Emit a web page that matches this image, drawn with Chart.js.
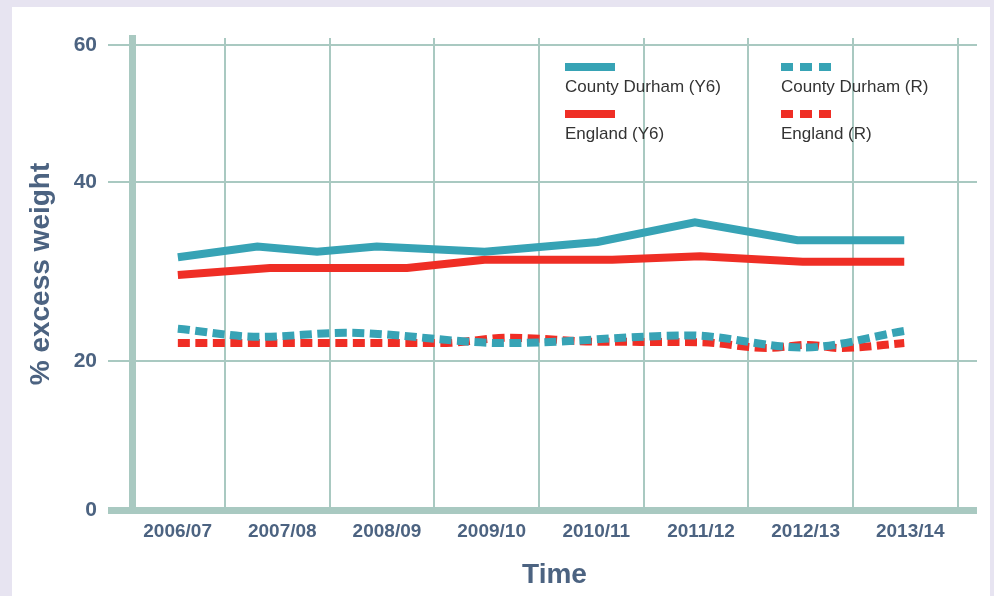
<!DOCTYPE html>
<html>
<head>
<meta charset="utf-8">
<script src="https://cdn.jsdelivr.net/npm/chart.js"></script>
<style>
  html, body { margin: 0; padding: 0; background: #e7e4f1; }
  body { width: 994px; height: 596px; position: relative; overflow: hidden; font-family: "Liberation Sans", Arial, sans-serif; }
  #card { position: absolute; left: 12px; top: 7px; width: 978px; height: 600px; background: #fff; }
  #c { position: absolute; left: 0; top: 0; }
  #legend { position: absolute; left: 565px; top: 62.5px; display: grid; grid-template-columns: 216px 216px; row-gap: 13.5px; }
  .item .sample { width: 50px; height: 8px; margin-bottom: 6px; }
  .item .text { font-size: 17px; line-height: 20px; color: #333; white-space: nowrap; }
</style>
</head>
<body>
<div id="card"></div>
<canvas id="c" width="994" height="596"></canvas>
<div id="legend"></div>
<script>
// categories and tick labels
const years = ['2006/07', '2007/08', '2008/09', '2009/10', '2010/11', '2011/12', '2012/13', '2013/14']
const yTicks = [0, 20, 40, 60]

// series, x in category units (0 = left edge of 2006/07, 8 = right edge of 2013/14)
const durhamY6X = [0.55, 1.31, 1.88, 2.45, 3.48, 4.56, 5.49, 6.47, 7.49]
const durhamY6 = [31.6, 32.8, 32.2, 32.8, 32.2, 33.3, 35.5, 33.5, 33.5]
const englandY6X = [0.55, 1.43, 2.74, 3.48, 4.7, 5.54, 6.52, 7.49]
const englandY6 = [29.6, 30.4, 30.4, 31.3, 31.3, 31.7, 31.1, 31.1]
const durhamRX = [0.55, 1.33, 2.15, 3.68, 5.44, 6.52, 7.49]
const durhamR = [23.6, 22.7, 23.15, 22.0, 22.85, 21.5, 23.35]
const englandRX = [0.55, 3.06, 3.72, 4.58, 5.54, 6.18, 6.57, 6.88, 7.49]
const englandR = [22.0, 22.0, 22.6, 22.15, 22.1, 21.45, 21.8, 21.45, 22.0]

const TEAL = '#37a3b5'
const RED = '#ef2e25'
const GRID = '#a9c9c1'
const SLATE = '#4c6381'

// the original y axis is not evenly spaced: value -> fraction of axis height
const Y_STOPS = [[0, 0], [20, 0.3157], [40, 0.6949], [60, 0.9852], [61, 1]]

function toFraction(v) {
  for (let i = 1; i < Y_STOPS.length; i++) {
    const [v0, f0] = Y_STOPS[i - 1]
    const [v1, f1] = Y_STOPS[i]
    if (v <= v1 || i === Y_STOPS.length - 1) return f0 + (v - v0) / (v1 - v0) * (f1 - f0)
  }
}

function fromFraction(f) {
  for (let i = 1; i < Y_STOPS.length; i++) {
    const [v0, f0] = Y_STOPS[i - 1]
    const [v1, f1] = Y_STOPS[i]
    if (f <= f1 || i === Y_STOPS.length - 1) return v0 + (f - f0) / (f1 - f0) * (v1 - v0)
  }
}

class StretchedScale extends Chart.LinearScale {
  getPixelForValue(value) {
    return value === null ? NaN : this.getPixelForDecimal(toFraction(value))
  }
  getValueForPixel(pixel) {
    return fromFraction(this.getDecimalForPixel(pixel))
  }
}
StretchedScale.id = 'stretched'
StretchedScale.defaults = Chart.LinearScale.defaults
Chart.register(StretchedScale)

Chart.defaults.font.family = '"Liberation Sans", Arial, sans-serif'

const pairs = (xs, ys) => xs.map((x, i) => ({ x: x, y: ys[i] }))

const solid = (label, xs, ys, color) => ({
  label: label,
  data: pairs(xs, ys),
  borderColor: color,
  backgroundColor: color,
  borderWidth: 8,
  pointRadius: 0,
  tension: 0,
  borderCapStyle: 'butt'
})

const dotted = (label, xs, ys, color) => ({
  label: label,
  data: pairs(xs, ys),
  borderColor: color,
  backgroundColor: color,
  borderWidth: 8,
  borderDash: [12, 5.5],
  pointRadius: 0,
  cubicInterpolationMode: 'monotone',
  borderCapStyle: 'butt'
})

const chart = new Chart(document.getElementById('c'), {
  type: 'line',
  data: {
    datasets: [
      solid('County Durham (Y6)', durhamY6X, durhamY6, TEAL),
      dotted('County Durham (R)', durhamRX, durhamR, TEAL),
      solid('England (Y6)', englandY6X, englandY6, RED),
      dotted('England (R)', englandRX, englandR, RED)
    ]
  },
  options: {
    responsive: false,
    animation: false,
    layout: {
      padding: { left: 12, top: 38, right: 17, bottom: 0 }
    },
    scales: {
      x: {
        type: 'linear',
        min: 0.112,
        max: 8.185,
        afterBuildTicks: scale => {
          scale.ticks = years.map((y, i) => ({ value: i + 0.5 }))
        },
        afterFit: scale => {
          scale.height = 86
        },
        grid: {
          offset: true,
          color: GRID,
          lineWidth: 2,
          drawTicks: false
        },
        border: { display: false },
        ticks: {
          callback: (value, index) => years[index],
          autoSkip: false,
          maxRotation: 0,
          padding: 10,
          labelOffset: 5,
          color: SLATE,
          font: { size: 19, weight: 'bold' }
        },
        title: {
          display: true,
          text: 'Time',
          color: SLATE,
          font: { size: 28, weight: 'bold' },
          padding: { top: 0, bottom: 4 }
        }
      },
      y: {
        type: 'stretched',
        min: 0,
        max: 61,
        afterBuildTicks: scale => {
          scale.ticks = yTicks.map(v => ({ value: v }))
        },
        afterFit: scale => {
          scale.width = 120
        },
        grid: {
          color: GRID,
          tickColor: GRID,
          lineWidth: ctx => ctx.tick && ctx.tick.value === 0 ? 7 : 2,
          tickWidth: ctx => ctx.tick && ctx.tick.value === 0 ? 7 : 2,
          tickLength: 24
        },
        border: { display: true, color: GRID, width: 7 },
        ticks: {
          padding: 11,
          color: SLATE,
          font: { size: 21, weight: 'bold' }
        },
        title: {
          display: true,
          text: '% excess weight',
          color: SLATE,
          font: { size: 28, weight: 'bold' },
          padding: { top: 12, bottom: 0 }
        }
      }
    },
    plugins: {
      legend: { display: false },
      tooltip: { enabled: false }
    }
  }
})

// legend: line sample above the label, two columns
const legendBox = document.getElementById('legend')
chart.data.datasets.forEach(ds => {
  const item = document.createElement('div')
  item.className = 'item'
  const sample = document.createElement('div')
  sample.className = 'sample'
  if (ds.borderDash) {
    sample.style.background = `repeating-linear-gradient(to right, ${ds.borderColor} 0 12px, transparent 12px 19px)`
  } else {
    sample.style.background = ds.borderColor
  }
  const text = document.createElement('div')
  text.className = 'text'
  text.textContent = ds.label
  item.appendChild(sample)
  item.appendChild(text)
  legendBox.appendChild(item)
})
</script>
</body>
</html>
